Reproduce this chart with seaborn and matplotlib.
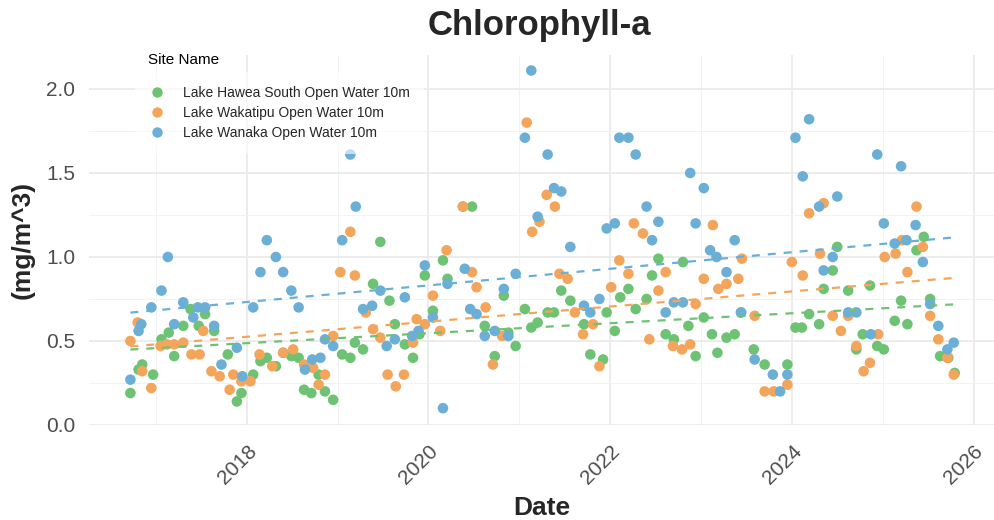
import numpy as np
import pandas as pd
import matplotlib
matplotlib.use("Agg")
import matplotlib.pyplot as plt
import matplotlib.dates as mdates
from matplotlib.lines import Line2D
import seaborn as sns

# sampling dates (decimal years) and chlorophyll-a (mg/m^3) per site
hawea_years = [2016.72, 2016.81, 2016.85, 2016.97, 2017.06, 2017.14, 2017.20, 2017.30, 2017.38, 2017.47,
               2017.54, 2017.64, 2017.79, 2017.89, 2017.94, 2018.07, 2018.15, 2018.22, 2018.32, 2018.40,
               2018.49, 2018.57, 2018.63, 2018.71, 2018.79, 2018.86, 2018.95, 2019.05, 2019.14, 2019.19,
               2019.28, 2019.39, 2019.47, 2019.57, 2019.63, 2019.74, 2019.83, 2019.90, 2019.96, 2020.05,
               2020.16, 2020.21, 2020.38, 2020.48, 2020.62, 2020.73, 2020.83, 2020.88, 2020.96, 2021.06,
               2021.13, 2021.20, 2021.31, 2021.38, 2021.46, 2021.56, 2021.71, 2021.78, 2021.92, 2021.96,
               2022.05, 2022.11, 2022.20, 2022.28, 2022.40, 2022.46, 2022.53, 2022.61, 2022.70, 2022.80,
               2022.86, 2022.94, 2023.03, 2023.12, 2023.18, 2023.28, 2023.37, 2023.44, 2023.58, 2023.70,
               2023.95, 2024.04, 2024.11, 2024.19, 2024.30, 2024.35, 2024.45, 2024.50, 2024.62, 2024.71,
               2024.78, 2024.86, 2024.94, 2025.01, 2025.13, 2025.20, 2025.27, 2025.37, 2025.45, 2025.52,
               2025.63, 2025.72, 2025.79]
hawea_chla = [0.19, 0.33, 0.36, 0.30, 0.51, 0.55, 0.41, 0.59, 0.69, 0.59,
              0.66, 0.56, 0.42, 0.14, 0.19, 0.30, 0.38, 0.40, 0.35, 0.43,
              0.41, 0.40, 0.21, 0.19, 0.30, 0.20, 0.15, 0.42, 0.40, 0.49,
              0.45, 0.84, 1.09, 0.74, 0.60, 0.48, 0.40, 0.54, 0.89, 0.68,
              0.98, 0.87, 1.30, 1.30, 0.59, 0.41, 0.77, 0.55, 0.47, 0.69,
              0.58, 0.61, 0.67, 0.67, 0.80, 0.74, 0.60, 0.42, 0.39, 0.67,
              0.56, 0.76, 0.81, 0.69, 0.75, 0.89, 0.99, 0.54, 0.51, 0.97,
              0.59, 0.41, 0.64, 0.54, 0.43, 0.52, 0.54, 0.67, 0.45, 0.36,
              0.36, 0.58, 0.58, 0.66, 0.60, 0.81, 0.92, 1.06, 0.80, 0.45,
              0.54, 0.83, 0.47, 0.45, 0.62, 0.74, 0.60, 1.04, 1.12, 0.75,
              0.41, 0.40, 0.31]

wakatipu_years = [2016.72, 2016.80, 2016.85, 2016.95, 2017.05, 2017.12, 2017.20, 2017.30, 2017.39, 2017.48,
                  2017.52, 2017.61, 2017.70, 2017.81, 2017.85, 2017.94, 2018.04, 2018.14, 2018.28, 2018.40,
                  2018.51, 2018.63, 2018.73, 2018.79, 2018.86, 2018.95, 2019.03, 2019.14, 2019.19, 2019.31,
                  2019.39, 2019.47, 2019.55, 2019.64, 2019.73, 2019.83, 2019.87, 2019.96, 2020.05, 2020.13,
                  2020.20, 2020.38, 2020.48, 2020.53, 2020.63, 2020.71, 2020.81, 2021.08, 2021.14, 2021.22,
                  2021.30, 2021.39, 2021.44, 2021.53, 2021.61, 2021.70, 2021.81, 2021.88, 2022.01, 2022.10,
                  2022.20, 2022.26, 2022.36, 2022.43, 2022.53, 2022.61, 2022.69, 2022.79, 2022.88, 2022.94,
                  2023.03, 2023.13, 2023.19, 2023.28, 2023.41, 2023.45, 2023.59, 2023.70, 2023.80, 2023.95,
                  2024.00, 2024.12, 2024.19, 2024.31, 2024.35, 2024.45, 2024.54, 2024.62, 2024.71, 2024.79,
                  2024.86, 2024.95, 2025.02, 2025.14, 2025.21, 2025.27, 2025.37, 2025.44, 2025.52, 2025.61,
                  2025.71, 2025.78]
wakatipu_chla = [0.50, 0.61, 0.32, 0.22, 0.47, 0.48, 0.48, 0.49, 0.42, 0.42,
                 0.56, 0.32, 0.29, 0.21, 0.30, 0.26, 0.26, 0.42, 0.35, 0.43,
                 0.45, 0.36, 0.34, 0.24, 0.30, 0.53, 0.91, 1.15, 0.89, 0.67,
                 0.57, 0.52, 0.30, 0.23, 0.30, 0.49, 0.63, 0.60, 0.77, 0.56,
                 1.04, 1.30, 0.91, 0.82, 0.70, 0.36, 0.53, 1.80, 1.15, 1.21,
                 1.37, 1.30, 0.90, 0.87, 0.67, 0.54, 0.60, 0.35, 0.82, 0.98,
                 0.90, 1.20, 1.14, 0.51, 0.80, 0.91, 0.47, 0.45, 0.48, 0.72,
                 0.87, 1.19, 0.81, 0.84, 0.87, 0.99, 0.65, 0.20, 0.20, 0.24,
                 0.97, 0.89, 1.26, 1.02, 1.32, 0.65, 0.56, 0.65, 0.47, 0.32,
                 0.37, 0.54, 1.00, 1.02, 1.10, 0.91, 1.30, 1.06, 0.65, 0.51,
                 0.40, 0.30]

wanaka_years = [2016.72, 2016.81, 2016.84, 2016.95, 2017.06, 2017.13, 2017.20, 2017.30, 2017.41, 2017.46,
                2017.54, 2017.64, 2017.72, 2017.89, 2017.95, 2018.07, 2018.15, 2018.22, 2018.32, 2018.40,
                2018.49, 2018.57, 2018.64, 2018.72, 2018.81, 2018.86, 2018.95, 2019.05, 2019.14, 2019.20,
                2019.28, 2019.38, 2019.47, 2019.54, 2019.63, 2019.74, 2019.82, 2019.89, 2019.96, 2020.05,
                2020.16, 2020.21, 2020.40, 2020.46, 2020.53, 2020.62, 2020.73, 2020.83, 2020.88, 2020.96,
                2021.06, 2021.13, 2021.20, 2021.31, 2021.38, 2021.46, 2021.56, 2021.71, 2021.78, 2021.88,
                2021.96, 2022.05, 2022.10, 2022.20, 2022.28, 2022.40, 2022.46, 2022.53, 2022.61, 2022.70,
                2022.80, 2022.88, 2022.94, 2023.03, 2023.10, 2023.17, 2023.28, 2023.37, 2023.44, 2023.59,
                2023.79, 2023.87, 2023.95, 2024.04, 2024.12, 2024.19, 2024.30, 2024.35, 2024.45, 2024.50,
                2024.62, 2024.71, 2024.87, 2024.94, 2025.01, 2025.13, 2025.20, 2025.26, 2025.36, 2025.44,
                2025.52, 2025.61, 2025.71, 2025.78]
wanaka_chla = [0.27, 0.56, 0.60, 0.70, 0.80, 1.00, 0.60, 0.73, 0.64, 0.70,
               0.70, 0.59, 0.36, 0.46, 0.29, 0.70, 0.91, 1.10, 1.00, 0.91,
               0.80, 0.70, 0.33, 0.39, 0.40, 0.51, 0.47, 1.10, 1.61, 1.30,
               0.69, 0.71, 0.80, 0.47, 0.51, 0.76, 0.53, 0.56, 0.95, 0.64,
               0.10, 0.84, 0.93, 0.69, 0.66, 0.53, 0.56, 0.81, 0.53, 0.90,
               1.71, 2.11, 1.24, 1.61, 1.41, 1.39, 1.06, 0.71, 0.67, 0.75,
               1.17, 1.20, 1.71, 1.71, 1.61, 1.30, 1.10, 1.21, 0.67, 0.73,
               0.73, 1.50, 1.20, 1.41, 1.04, 1.00, 0.91, 1.10, 0.67, 0.39,
               0.30, 0.20, 0.30, 1.71, 1.48, 1.82, 1.30, 0.92, 1.00, 1.36,
               0.67, 0.67, 0.54, 1.61, 1.20, 1.08, 1.54, 1.10, 1.19, 0.97,
               0.72, 0.59, 0.45, 0.49]

site_names = ["Lake Hawea South Open Water 10m",
              "Lake Wakatipu Open Water 10m",
              "Lake Wanaka Open Water 10m"]
site_colors = ["#6ec274", "#f3a55b", "#6baed6"]


def to_dates(years):
    years = np.asarray(years)
    whole = np.floor(years).astype(int)
    base = pd.to_datetime(whole.astype(str), format="%Y")
    return base + pd.to_timedelta((years - whole) * 365.25, unit="D")


frames = []
for name, yrs, vals in zip(site_names,
                           [hawea_years, wakatipu_years, wanaka_years],
                           [hawea_chla, wakatipu_chla, wanaka_chla]):
    frames.append(pd.DataFrame({"Date": to_dates(yrs), "Value": vals, "Site Name": name}))
df = pd.concat(frames, ignore_index=True)
df["x"] = mdates.date2num(df["Date"])

sns.set_style("white")
plt.rcParams["font.family"] = ["Liberation Sans", "DejaVu Sans"]

fig = plt.figure(figsize=(9.94, 5.2), dpi=100)
ax = fig.add_axes([0.0895, 0.1827, 0.912, 0.7108])

palette = dict(zip(site_names, site_colors))
sns.scatterplot(data=df, x="x", y="Value", hue="Site Name", palette=palette,
                s=58, linewidth=0, alpha=1, legend=False, ax=ax, zorder=3)
for name in site_names:
    sub = df[df["Site Name"] == name]
    sns.regplot(data=sub, x="x", y="Value", scatter=False, ci=None, ax=ax,
                color=palette[name],
                line_kws={"linestyle": (0, (3.6, 3.6)), "linewidth": 1.6, "zorder": 4})

ax.set_xlim(mdates.date2num(to_dates([2016.264]))[0], mdates.date2num(to_dates([2026.24]))[0])
ax.set_ylim(0, 2.2)
ax.xaxis.set_major_locator(mdates.YearLocator(2))
ax.xaxis.set_major_formatter(mdates.DateFormatter("%Y"))
ax.xaxis.set_minor_locator(mdates.YearLocator(1))
ax.set_yticks([0, 0.5, 1.0, 1.5, 2.0])
ax.set_yticklabels(["0.0", "0.5", "1.0", "1.5", "2.0"])
ax.set_yticks([0.25, 0.75, 1.25, 1.75], minor=True)

ax.grid(which="major", color="#ebebeb", linewidth=1.3)
ax.grid(which="minor", color="#f2f2f2", linewidth=0.7)
ax.set_axisbelow(True)
for sp in ax.spines.values():
    sp.set_visible(False)
ax.tick_params(which="both", length=0)
ax.tick_params(axis="both", labelsize=15, labelcolor="#4d4d4d")
ax.tick_params(axis="y", pad=10)
ax.tick_params(axis="x", pad=12)
for lab in ax.get_xticklabels():
    lab.set_rotation(45)
    lab.set_ha("right")
    lab.set_rotation_mode("anchor")

ax.set_xlabel("Date", fontsize=19, fontweight="bold", labelpad=6)
ax.set_ylabel("(mg/m^3)", fontsize=19, fontweight="bold", labelpad=8)
fig.suptitle("Chlorophyll-a", fontsize=25, fontweight="bold", x=0.543, y=0.982)

# legend title sits above the legend box, as in the original
fig.text(148 / 994, 1 - 60 / 520, "Site Name", fontsize=11, color="black",
         ha="left", va="center")
handles = [Line2D([0], [0], marker="o", linestyle="none", markersize=7.5,
                  markerfacecolor=c, markeredgewidth=0) for c in site_colors]
leg = ax.legend(handles, site_names, loc="upper left",
                bbox_to_anchor=(135 / 994, 1 - 72 / 520), bbox_transform=fig.transFigure,
                borderaxespad=0, fontsize=10, frameon=True, framealpha=0.6,
                edgecolor="none", facecolor="white", fancybox=False,
                labelspacing=0.43, handlelength=1.2, handletextpad=1.25, borderpad=1.0)
leg.set_zorder(5)

fig.savefig("out.png", dpi=100)
